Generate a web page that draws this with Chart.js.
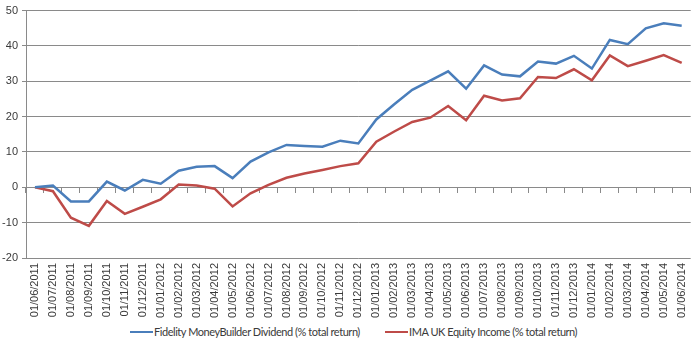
<!DOCTYPE html>
<html>
<head>
<meta charset="utf-8">
<script src="https://cdn.jsdelivr.net/npm/chart.js@4.4.1/dist/chart.umd.min.js"></script>
<style>
  html, body { margin: 0; padding: 0; background: #fff; }
  #wrap { position: relative; width: 700px; height: 343px; }
  #legend { position: absolute; left: 0; top: 322px; width: 700px; height: 21px;
            font: 11px Lato, 'Liberation Sans', sans-serif; letter-spacing: -0.45px; color: #3a3a3a; }
  #legend .item { position: absolute; top: 3px; white-space: nowrap; line-height: 14px; }
  #legend .swatch { display: inline-block; width: 23px; height: 2.5px; vertical-align: middle;
                    margin-right: 1px; position: relative; top: -1px; }
</style>
</head>
<body>
<div id="wrap">
  <canvas id="returns" width="700" height="322"></canvas>
  <div id="legend"></div>
</div>
<script>
// monthly observation dates
const months = [
  '01/06/2011', '01/07/2011', '01/08/2011', '01/09/2011', '01/10/2011', '01/11/2011', '01/12/2011',
  '01/01/2012', '01/02/2012', '01/03/2012', '01/04/2012', '01/05/2012', '01/06/2012', '01/07/2012',
  '01/08/2012', '01/09/2012', '01/10/2012', '01/11/2012', '01/12/2012',
  '01/01/2013', '01/02/2013', '01/03/2013', '01/04/2013', '01/05/2013', '01/06/2013', '01/07/2013',
  '01/08/2013', '01/09/2013', '01/10/2013', '01/11/2013', '01/12/2013',
  '01/01/2014', '01/02/2014', '01/03/2014', '01/04/2014', '01/05/2014', '01/06/2014'
];

// cumulative % total return
const fidelity = [
  0, 0.5, -4.0, -4.0, 1.6, -0.9, 2.1, 1.0, 4.7, 5.8, 6.0, 2.6, 7.3, 9.9, 12.0, 11.7, 11.5, 13.2, 12.4,
  19.2, 23.5, 27.6, 30.2, 32.8, 27.9, 34.5, 31.9, 31.4, 35.6, 35.0, 37.2, 33.6, 41.7, 40.5, 45.0, 46.4, 45.7
];
const imaIncome = [
  0, -1.1, -8.6, -10.9, -3.9, -7.5, -5.5, -3.4, 0.8, 0.5, -0.4, -5.4, -1.7, 0.7, 2.7, 3.9, 4.9, 6.0, 6.8,
  12.9, 15.8, 18.5, 19.7, 23.0, 19.0, 25.9, 24.6, 25.2, 31.2, 30.9, 33.4, 30.3, 37.3, 34.3, 35.8, 37.4, 35.2
];

const seriesNames = [
  'Fidelity MoneyBuilder Dividend (% total return)',
  'IMA UK Equity Income (% total return)'
];
const seriesColors = ['#4a7ebb', '#be4b48'];

const yMin = -20, yMax = 50, yStep = 10;

const gridGrey = '#8a8a8a';
const textGrey = '#3a3a3a';
const font = "'Liberation Sans', Arial, sans-serif";

const chart = new Chart(document.getElementById('returns'), {
  type: 'line',
  data: {
    labels: months,
    datasets: [fidelity, imaIncome].map((values, i) => ({
      label: seriesNames[i],
      data: values,
      borderColor: seriesColors[i],
      backgroundColor: seriesColors[i],
      borderWidth: 2.5,
      pointRadius: 0,
      tension: 0
    }))
  },
  options: {
    responsive: false,
    animation: false,
    layout: { padding: { top: 9, right: 8, left: 0, bottom: 0 } },
    plugins: {
      tooltip: { enabled: false },
      legend: { display: false }
    },
    scales: {
      x: {
        type: 'category',
        offset: true,
        grid: { display: false, drawTicks: false },
        border: { display: false },
        ticks: {
          minRotation: 90,
          maxRotation: 90,
          autoSkip: false,
          padding: 5,
          color: textGrey,
          font: { family: font, size: 11 }
        },
        afterFit: (scale) => { scale.height = 64; }
      },
      // horizontal axis line at zero with category tick marks
      x2: {
        type: 'category',
        axis: 'x',
        position: { y: 0 },
        offset: true,
        grid: { drawOnChartArea: false, tickLength: 5, color: gridGrey, offset: true },
        border: { color: gridGrey },
        ticks: { display: false }
      },
      y: {
        min: yMin,
        max: yMax,
        ticks: {
          stepSize: yStep,
          padding: 4,
          color: textGrey,
          font: { family: font, size: 11 }
        },
        grid: { color: gridGrey, tickLength: 4 },
        border: { color: gridGrey },
        afterFit: (scale) => { scale.width = 26; }
      }
    }
  }
});

// legend under the plot, built from the chart's datasets
const legendLeft = [130, 385];
const legendEl = document.getElementById('legend');
chart.data.datasets.forEach((ds, i) => {
  const item = document.createElement('span');
  item.className = 'item';
  item.style.left = legendLeft[i] + 'px';
  const swatch = document.createElement('span');
  swatch.className = 'swatch';
  swatch.style.background = ds.borderColor;
  item.appendChild(swatch);
  item.appendChild(document.createTextNode(ds.label));
  legendEl.appendChild(item);
});
</script>
</body>
</html>
